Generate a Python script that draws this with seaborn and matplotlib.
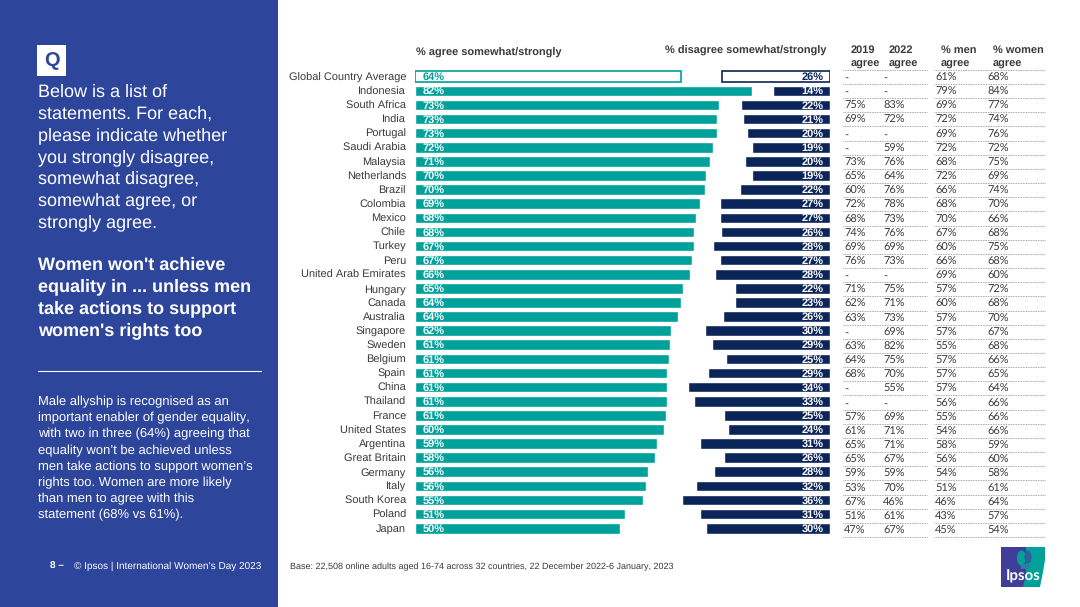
#!/usr/bin/env python3
"""Ipsos slide: women won't achieve equality unless men act too."""

import pandas as pd
import seaborn as sns
import matplotlib
matplotlib.use("Agg")
import matplotlib.pyplot as plt
from matplotlib.patches import Rectangle, Polygon, Ellipse

# -------------------------
# Data
# -------------------------
COUNTRIES = ["Global Country Average", "Indonesia", "South Africa", "India", "Portugal",
             "Saudi Arabia", "Malaysia", "Netherlands", "Brazil", "Colombia", "Mexico",
             "Chile", "Turkey", "Peru", "United Arab Emirates", "Hungary", "Canada",
             "Australia", "Singapore", "Sweden", "Belgium", "Spain", "China", "Thailand",
             "France", "United States", "Argentina", "Great Britain", "Germany", "Italy",
             "South Korea", "Poland", "Japan"]
AGREE = [64, 82, 73, 73, 73, 72, 71, 70, 70, 69, 68, 68, 67, 67, 66, 65, 64,
         64, 62, 61, 61, 61, 61, 61, 61, 60, 59, 58, 56, 56, 55, 51, 50]
DISAGREE = [26, 14, 22, 21, 20, 19, 20, 19, 22, 27, 27, 26, 28, 27, 28, 22, 23,
            26, 30, 29, 25, 29, 34, 33, 25, 24, 31, 26, 28, 32, 36, 31, 30]
# drawn bar lengths (they run a little past the printed labels)
AGREE_BAR = [64.8, 82.1, 73.9, 73.6, 73.4, 72.6, 71.7, 70.9, 70.6, 69.4, 68.4, 68.0, 67.9,
             67.5, 66.8, 65.1, 64.8, 63.9, 62.4, 62.0, 61.7, 61.4, 61.2, 61.2, 61.1, 60.7,
             59.0, 58.5, 56.6, 56.3, 55.4, 51.0, 49.8]
DISAGREE_BAR = [26.3, 13.9, 21.7, 21.2, 20.3, 19.0, 20.7, 19.0, 21.9, 26.8, 26.8, 26.6,
                28.5, 26.8, 28.0, 23.0, 23.0, 26.0, 30.4, 28.7, 25.3, 29.6, 34.5, 33.1,
                25.8, 24.8, 31.6, 25.8, 28.2, 32.6, 36.0, 31.6, 30.2]
Y2019 = ["-", "-", "75%", "69%", "-", "-", "73%", "65%", "60%", "72%", "68%", "74%", "69%",
         "76%", "-", "71%", "62%", "63%", "-", "63%", "64%", "68%", "-", "-", "57%", "61%",
         "65%", "65%", "59%", "53%", "67%", "51%", "47%"]
Y2022 = ["-", "-", "83%", "72%", "-", "59%", "76%", "64%", "76%", "78%", "73%", "76%", "69%",
         "73%", "-", "75%", "71%", "73%", "69%", "82%", "75%", "70%", "55%", "-", "69%", "71%",
         "71%", "67%", "59%", "70%", "46%", "61%", "67%"]
MEN = ["61%", "79%", "69%", "72%", "69%", "72%", "68%", "72%", "66%", "68%", "70%", "67%",
       "60%", "66%", "69%", "57%", "60%", "57%", "57%", "55%", "57%", "57%", "57%", "56%",
       "55%", "54%", "58%", "56%", "54%", "51%", "46%", "43%", "45%"]
WOMEN = ["68%", "84%", "77%", "74%", "76%", "72%", "75%", "69%", "74%", "70%", "66%", "68%",
         "75%", "68%", "60%", "72%", "68%", "70%", "67%", "68%", "66%", "65%", "64%", "66%",
         "66%", "66%", "59%", "60%", "58%", "61%", "64%", "57%", "54%"]

QUESTION = ["Below is a list of", "statements. For each,", "please indicate whether",
            "you strongly disagree,", "somewhat disagree,", "somewhat agree, or",
            "strongly agree."]
STATEMENT = ["Women won't achieve", "equality in ... unless men",
             "take actions to support", "women's rights too"]
SUMMARY = ["Male allyship is recognised as an", "important enabler of gender equality,",
           "with two in three (64%) agreeing that", "equality won\u2019t be achieved unless",
           "men take actions to support women\u2019s", "rights too. Women are more likely",
           "than men to agree with this", "statement (68% vs 61%)."]

# -------------------------
# Style
# -------------------------
W, H = 1080, 607
PANEL = "#2E459C"
TEAL = "#00A19A"
NAVY = "#0B2559"
TEXT = "#3A3A3A"
ARIAL = "Liberation Sans"
PX_PER_PCT = 4.11
BAR0_Y, BAR_STEP = 76.7, 14.11
ROW0_Y, ROW_STEP = 77.7, 14.16

sns.set_theme(style="white")
plt.rcParams["font.family"] = [ARIAL, "DejaVu Sans"]
plt.rcParams["text.hinting"] = "none"
plt.rcParams["text.hinting_factor"] = 1

df = pd.DataFrame({"country": COUNTRIES, "agree": AGREE_BAR, "disagree": DISAGREE_BAR})


def px_axes(fig, left, right, top, bottom):
    return fig.add_axes([left / W, 1 - bottom / H, (right - left) / W, (bottom - top) / H])


def draw_bars(ax, col, color, xlim):
    sns.barplot(data=df, y="country", x=col, color=color, width=0.75, saturation=1, ax=ax)
    ax.set_xlim(*xlim)
    ax.set_xlabel("")
    ax.set_ylabel("")
    ax.set_xticks([])
    sns.despine(ax=ax, left=True, bottom=True, top=True, right=True)
    ax.patch.set_alpha(0)
    # the global average row is an outlined bar
    first = ax.patches[0]
    first.set_facecolor("white")
    first.set_edgecolor(color)
    first.set_linewidth(1.2)


def main():
    fig = plt.figure(figsize=(W / 100, H / 100), dpi=100, facecolor="white")

    # background layer in pixel coordinates
    bg = fig.add_axes([0, 0, 1, 1], zorder=0)
    bg.set_xlim(0, W)
    bg.set_ylim(H, 0)
    bg.axis("off")
    bg.add_patch(Rectangle((0, 0), 278, H, color=PANEL, lw=0))
    bg.add_patch(Rectangle((37, 45), 29, 31, color="white", lw=0))
    bg.text(51.5, 61, "Q", color=PANEL, fontsize=14.5, fontweight="bold", ha="center", va="center")

    for i, line in enumerate(QUESTION):
        bg.text(38, 92 + i * 21.75, line, color="white", fontsize=13.1, va="center")
    for i, line in enumerate(STATEMENT):
        bg.text(38, 265 + i * 21.75, line, color="white", fontsize=13.1, fontweight="bold", va="center")
    bg.plot([38, 261], [371, 371], color="white", lw=0.8)
    for i, line in enumerate(SUMMARY):
        bg.text(38, 402 + i * 16.15, line, color="white", fontsize=9.65, va="center")

    bg.text(50, 566, "8 \u2013", color="white", fontsize=7.5, fontweight="bold", va="center")
    bg.text(74, 566, "\u00a9 Ipsos | International Women\u2019s Day 2023", color="white",
            fontsize=7.55, va="center")
    bg.text(290, 567, "Base: 22,508 online adults aged 16-74 across 32 countries, "
            "22 December 2022-6 January, 2023", color=TEXT, fontsize=6.7, va="center")

    # bars
    top = BAR0_Y - BAR_STEP / 2
    bottom = top + BAR_STEP * len(COUNTRIES)
    ax_l = px_axes(fig, 415, 820, top, bottom)
    ax_r = px_axes(fig, 600, 830, top, bottom)
    ax_l.set_zorder(1)
    ax_r.set_zorder(2)
    draw_bars(ax_l, "agree", TEAL, (0, 405 / PX_PER_PCT))
    draw_bars(ax_r, "disagree", NAVY, (230 / PX_PER_PCT, 0))
    ax_l.tick_params(axis="y", length=0, pad=6.5, labelsize=8.25, labelcolor=TEXT)
    ax_r.tick_params(axis="y", length=0, left=False, labelleft=False)

    for i, (a, d) in enumerate(zip(AGREE, DISAGREE)):
        c_a = TEAL if i == 0 else "white"
        c_d = NAVY if i == 0 else "white"
        lab = dict(fontsize=8.1, fontweight="bold", va="center", zorder=5)
        ax_l.text(8 / PX_PER_PCT, i + 0.05, f"{a}%", color=c_a, ha="left", **lab)
        ax_r.text(6.7 / PX_PER_PCT, i + 0.05, f"{d}%", color=c_d, ha="right", **lab)

    # column headers
    bg.text(416, 53, "% agree somewhat/strongly", color=TEXT, fontsize=8.25, fontweight="bold", va="center")
    bg.text(665, 51, "% disagree somewhat/strongly", color=TEXT, fontsize=8.25, fontweight="bold", va="center")
    for x, head in [(851, "2019\nagree"), (889, "2022\nagree"), (941, "% men\nagree"), (993, "% women\nagree")]:
        for j, part in enumerate(head.split("\n")):
            bg.text(x, 50 + j * 13.5, part, color=TEXT, fontsize=8, fontweight="bold", va="center")

    # side table
    columns = [(844, Y2019), (883, Y2022), (935, MEN), (987, WOMEN)]
    for i in range(len(COUNTRIES)):
        y = ROW0_Y + i * ROW_STEP
        for x, vals in columns:
            bg.text(x, y, vals[i], color=TEXT, fontsize=7.6, family="Lato", va="center")
    for i in range(len(COUNTRIES) + 1):
        y = 69.8 + i * ROW_STEP
        bg.plot([843, 927], [y, y], color="#8A8A8A", lw=0.6, ls=(0, (1, 1)))
        bg.plot([934, 1045], [y, y], color="#8A8A8A", lw=0.6, ls=(0, (1, 1)))

    # logo
    bg.add_patch(Rectangle((1001, 547), 29, 40, color="#3F3F98", lw=0))
    bg.add_patch(Polygon([(1026, 547), (1045, 547), (1045, 560), (1043, 572), (1040, 587),
                          (1023, 587), (1026, 575), (1026, 562)], color=TEAL, lw=0))
    bg.add_patch(Ellipse((1021.5, 558), 9, 15, color=TEAL, lw=0))
    bg.add_patch(Ellipse((1028, 557), 7, 13, color="#2C5F9E", lw=0))
    bg.add_patch(Rectangle((1021, 564), 9, 5, color="#2C7FA0", lw=0))
    bg.text(1023, 576.5, "Ipsos", color="white", fontsize=10.5, fontweight="bold", family="Lato",
            ha="center", va="center")

    fig.savefig("out.png", dpi=100, facecolor="white")
    plt.close(fig)


if __name__ == "__main__":
    main()
